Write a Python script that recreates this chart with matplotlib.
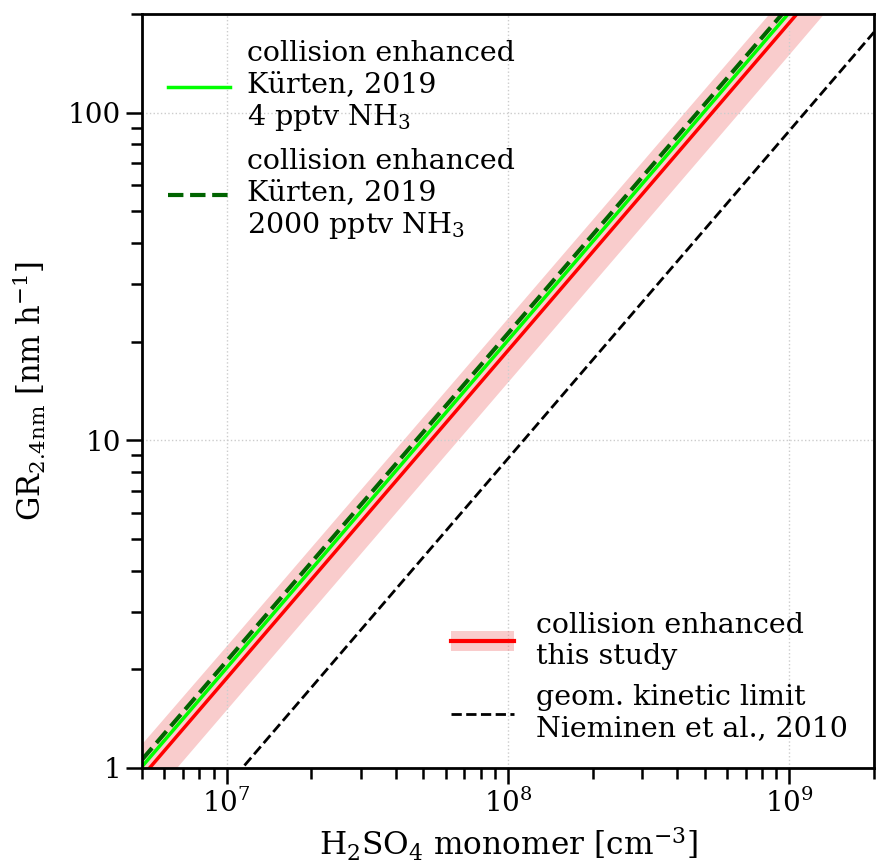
import matplotlib
matplotlib.use("Agg")
import matplotlib.pyplot as plt
from matplotlib.patches import Patch
from matplotlib.lines import Line2D
from matplotlib.ticker import FuncFormatter, LogLocator, NullFormatter

plt.rcParams['font.family'] = 'DejaVu Serif'
plt.rcParams['mathtext.fontset'] = 'dejavuserif'
plt.rcParams['font.size'] = 20

# H2SO4 monomer concentration [cm^-3]
conc = [5e6, 1e7, 1e8, 1e9, 2e9]
# growth rates [nm/h]
gr_this_study = [0.94, 1.88, 18.8, 188, 376]
gr_this_low = [0.75, 1.50, 15.0, 150, 301]
gr_this_high = [1.18, 2.35, 23.5, 235, 470]
gr_kurten_4 = [1.01, 2.02, 20.2, 202, 404]
gr_kurten_2000 = [1.06, 2.12, 21.2, 212, 424]
gr_nieminen = [0.44, 0.88, 8.8, 88, 176]

fig = plt.figure(figsize=(8.76, 8.65), dpi=100)
ax = fig.add_axes([142 / 876, 97 / 865, 732 / 876, 754 / 865])

band = ax.fill_between(conc, gr_this_low, gr_this_high, color='#f08080', alpha=0.4, lw=0)
red, = ax.plot(conc, gr_this_study, color='red', lw=2.5)
green, = ax.plot(conc, gr_kurten_4, color='#00ff00', lw=2.5)
dgreen, = ax.plot(conc, gr_kurten_2000, color='darkgreen', lw=3, ls='--')
black, = ax.plot(conc, gr_nieminen, color='black', lw=2, ls='--')

ax.set_xscale('log')
ax.set_yscale('log')
ax.set_xlim(5e6, 2e9)
ax.set_ylim(1, 200)

ax.yaxis.set_major_formatter(FuncFormatter(lambda v, p: f"{v:g}"))
ax.yaxis.set_minor_formatter(NullFormatter())
ax.xaxis.set_minor_locator(LogLocator(base=10, subs=range(2, 10)))
ax.xaxis.set_minor_formatter(NullFormatter())

ax.tick_params(which='major', length=11.5, width=1.8, labelsize=20)
ax.tick_params(which='minor', length=8, width=1.8)
for s in ax.spines.values():
    s.set_linewidth(2)

ax.grid(True, which='major', ls=':', color='#cccccc', lw=1)

ax.set_xlabel(r'H$_2$SO$_4$ monomer [cm$^{-3}$]', fontsize=22.5, labelpad=6)
ax.set_ylabel(r'$\mathrm{GR_{2.4nm}}$ [nm h$^{-1}$]', fontsize=22, labelpad=14)

leg1 = ax.legend([green, Line2D([], [], color='darkgreen', lw=3, ls='--')],
                 ['collision enhanced\nKürten, 2019\n4 pptv NH$_3$',
                  'collision enhanced\nKürten, 2019\n2000 pptv NH$_3$'],
                 loc='upper left', frameon=False, fontsize=20.5, handlelength=2.2,
                 handletextpad=0.6)
ax.add_artist(leg1)

ax.legend([(Patch(facecolor='#f08080', alpha=0.4, lw=0), Line2D([], [], color='red', lw=3)),
           black],
          ['collision enhanced\nthis study', 'geom. kinetic limit\nNieminen et al., 2010'],
          loc='lower right', frameon=False, fontsize=20.5, handlelength=2.2)

fig.savefig('out.png', dpi=100)
